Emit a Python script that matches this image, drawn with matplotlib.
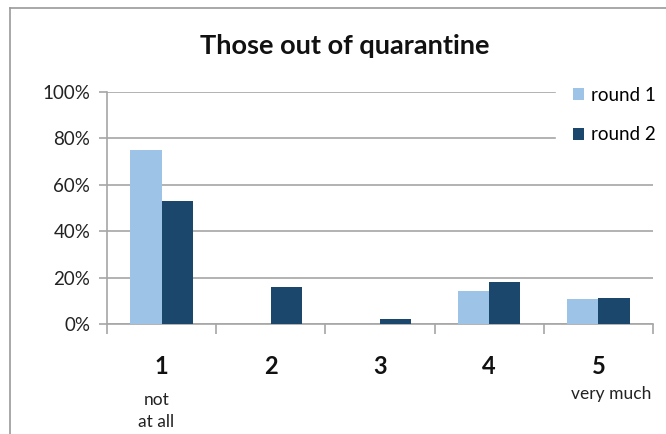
import numpy as np
import matplotlib
matplotlib.use("Agg")
import matplotlib.pyplot as plt
from matplotlib.lines import Line2D

plt.rcParams['font.family'] = ['Lato', 'DejaVu Sans']

categories = ['1', '2', '3', '4', '5']
round1 = [0.75, 0.0, 0.0, 0.144, 0.108]
round2 = [0.53, 0.16, 0.02, 0.18, 0.11]
yticks = [0, 0.2, 0.4, 0.6, 0.8, 1.0]
ytick_labels = ['0%', '20%', '40%', '60%', '80%', '100%']

c1 = '#9dc3e6'
c2 = '#1c476c'
grid_c = '#a6a6a6'

fig = plt.figure(figsize=(6.66, 4.34), dpi=100)
ax = fig.add_axes([107/666, 1 - 324/434, 546/666, 232/434])

x = np.arange(len(categories))
w = 0.285
ax.bar(x - w/2, round1, w, color=c1, label='round 1', zorder=3)
ax.bar(x + w/2, round2, w, color=c2, label='round 2', zorder=3)

ax.set_xlim(-0.5, 4.5)
ax.set_ylim(0, 1)
ax.set_yticks(yticks)
ax.set_yticklabels(ytick_labels, fontsize=13.5, color='#222222')
ax.yaxis.grid(True, color=grid_c, linewidth=1.2, zorder=0)
ax.tick_params(axis='y', length=6, color=grid_c, width=1.2, pad=6)

# category ticks sit between groups
ax.set_xticks(np.arange(-0.5, 5, 1))
ax.set_xticklabels([])
ax.tick_params(axis='x', length=7, color=grid_c, width=1.2)
for i, c in enumerate(categories):
    ax.text(x[i], -0.185, c, ha='center', va='center', fontsize=17,
            fontweight='bold', color='#111111', clip_on=False)
ax.text(-0.05, -0.295, 'not\nat all', ha='center', va='top', fontsize=12.5,
        color='#222222', linespacing=1.45, clip_on=False)
ax.text(4.12, -0.3, 'very much', ha='center', va='center', fontsize=12.5,
        color='#222222', clip_on=False)

for s in ['top', 'right']:
    ax.spines[s].set_visible(False)
for s in ['left', 'bottom']:
    ax.spines[s].set_color(grid_c)
    ax.spines[s].set_linewidth(1.2)

fig.text(345/666, 1 - 46/434, 'Those out of quarantine', ha='center',
         va='center', fontsize=19.5, fontweight='bold', color='#111111')

leg = fig.legend(loc='upper left', bbox_to_anchor=(556/666, 1 - 70/434),
                 frameon=True, fontsize=13.5, handlelength=0.6,
                 handleheight=0.6, handletextpad=0.35, labelspacing=1.2,
                 borderpad=0.9, borderaxespad=0)
leg.get_frame().set_facecolor('white')
leg.get_frame().set_edgecolor('white')
leg.get_frame().set_alpha(1)

# outer chart border (left and top)
fig.add_artist(Line2D([10/666, 10/666], [0, 1 - 8/434], color='#9a9a9a', lw=1.2))
fig.add_artist(Line2D([10/666, 1], [1 - 8/434, 1 - 8/434], color='#9a9a9a', lw=1.2))

fig.savefig('out.png', dpi=100)
